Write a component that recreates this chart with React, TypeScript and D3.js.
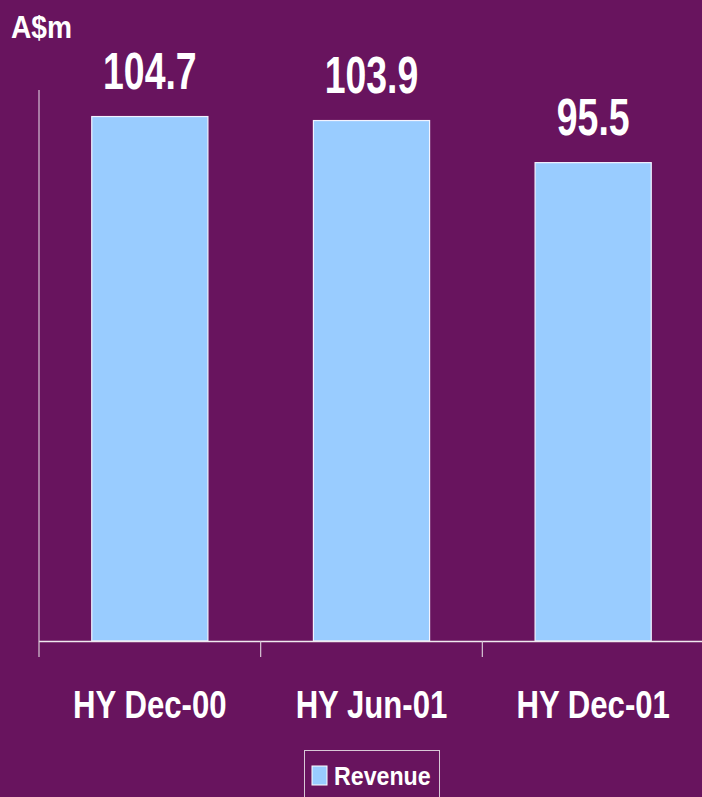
import * as d3 from 'd3';
import React from 'react';

const categories = ['HY Dec-00', 'HY Jun-01', 'HY Dec-01'];
const revenue = [104.7, 103.9, 95.5];
const seriesName = 'Revenue';
const unitLabel = 'A$m';

const W = 702;
const H = 797;
const BG = '#68145e';
const BAR = '#99ccff';
const FONT = '"Liberation Sans", Arial, sans-serif';

const App = () => {
    const left = 39;
    const right = 704;
    const top = 90;
    const bottom = 641;

    const x = d3.scaleBand<string>()
        .domain(categories)
        .range([left, right])
        .paddingInner(0.476)
        .paddingOuter(0.238);
    const y = d3.scaleLinear().domain([0, 110]).range([bottom, top]);
    const step = x.step();

    const tickXs = categories.map((_, i) => left + i * step);

    return (
        <svg
            width={W}
            height={H}
            style={{ position: 'absolute', left: 0, top: 0, display: 'block' }}
        >
            <rect x={0} y={0} width={W} height={H} fill={BG} />

            {/* unit label */}
            <text
                transform={`translate(11,38) scale(0.88,1)`}
                fill="#fff"
                fontFamily={FONT}
                fontWeight="bold"
                fontSize={32}
            >
                {unitLabel}
            </text>

            {/* bars */}
            {revenue.map((v, i) => (
                <rect
                    key={categories[i]}
                    x={x(categories[i])}
                    y={y(v)}
                    width={x.bandwidth()}
                    height={bottom - y(v)}
                    fill={BAR}
                    stroke="#f2f2ff"
                    strokeWidth={1.2}
                />
            ))}

            {/* value labels */}
            {revenue.map((v, i) => {
                const cx = (x(categories[i]) as number) + x.bandwidth() / 2;
                return (
                    <text
                        key={'v' + i}
                        transform={`translate(${cx},${y(v) - 28}) scale(0.72,1)`}
                        textAnchor="middle"
                        fill="#fff"
                        fontFamily={FONT}
                        fontWeight="bold"
                        fontSize={52}
                    >
                        {v.toFixed(1)}
                    </text>
                );
            })}

            {/* axes */}
            <line x1={left} x2={left} y1={top} y2={bottom} stroke="#e8e0ea" strokeWidth={1} />
            <line x1={left} x2={W} y1={bottom + 0.5} y2={bottom + 0.5} stroke="#f0eaf0" strokeWidth={1.5} />
            {tickXs.map((tx, i) => (
                <line
                    key={'t' + i}
                    x1={tx}
                    x2={tx}
                    y1={bottom}
                    y2={bottom + 16}
                    stroke="#d8c8d6"
                    strokeWidth={1.2}
                />
            ))}

            {/* category labels */}
            {categories.map((c) => {
                const cx = (x(c) as number) + x.bandwidth() / 2;
                return (
                    <text
                        key={c}
                        transform={`translate(${cx},718) scale(0.82,1)`}
                        textAnchor="middle"
                        fill="#fff"
                        fontFamily={FONT}
                        fontWeight="bold"
                        fontSize={38}
                    >
                        {c}
                    </text>
                );
            })}

            {/* legend */}
            <rect x={304.5} y={750.5} width={135} height={60} fill="none" stroke="#d8c8d6" strokeWidth={1} />
            <rect x={312} y={766} width={15} height={19} fill={BAR} stroke="#fff" strokeWidth={1} />
            <text
                transform={`translate(334,785) scale(0.91,1)`}
                fill="#fff"
                fontFamily={FONT}
                fontWeight="bold"
                fontSize={25.5}
            >
                {seriesName}
            </text>
        </svg>
    );
};

export default App;
